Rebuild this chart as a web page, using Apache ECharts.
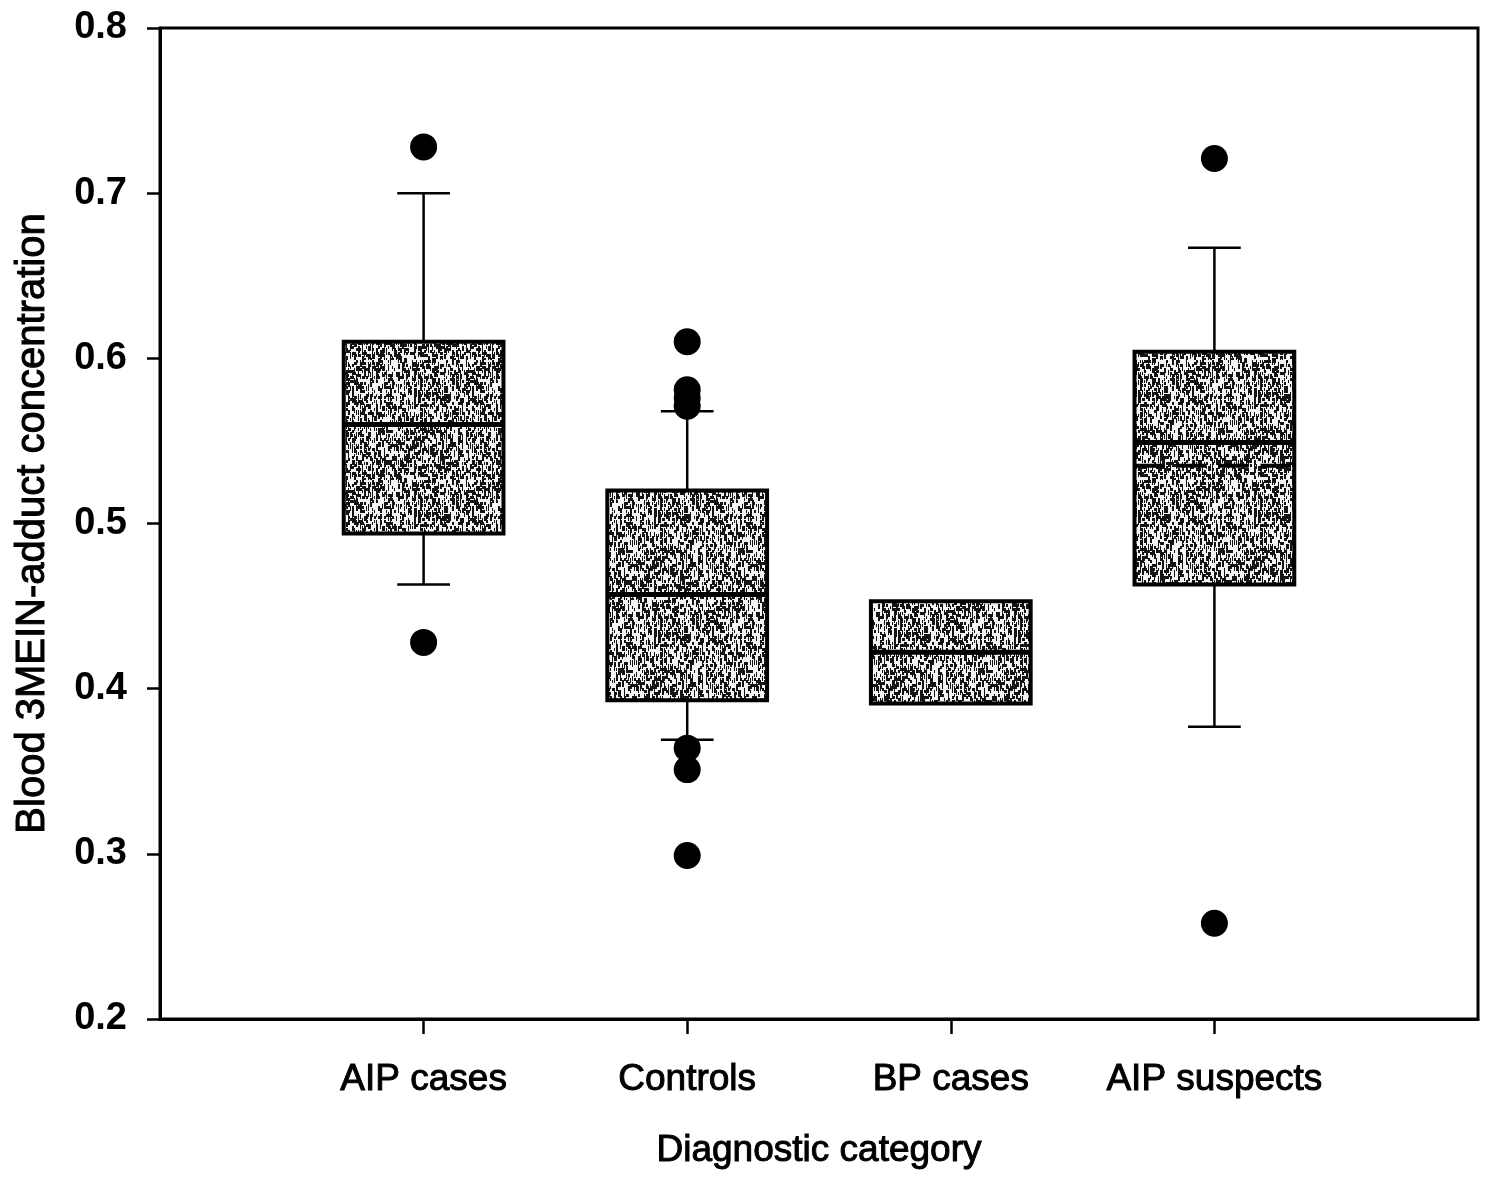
<!DOCTYPE html>
<html>
<head>
<meta charset="utf-8">
<script src="https://cdn.jsdelivr.net/npm/echarts@6.0.0/dist/echarts.min.js"></script>
<style>
  html, body { margin: 0; padding: 0; background: #fff; }
  #chart { width: 1486px; height: 1180px; }
</style>
</head>
<body>
<div id="chart"></div>
<script>
// box summary per diagnostic category
const categories = ['AIP cases', 'Controls', 'BP cases', 'AIP suspects']
const whiskerLow = [0.463, 0.369, null, 0.377]
const q1 = [0.494, 0.393, 0.391, 0.463]
const median = [0.560, 0.457, 0.422, 0.549]
const q3 = [0.610, 0.520, 0.453, 0.604]
const whiskerHigh = [0.700, 0.568, null, 0.667]
const meanLine = [null, null, null, 0.535]

// outlying points: category index + value
const outlierCat = [0, 0, 1, 1, 1, 1, 1, 1, 1, 3, 3]
const outlierVal = [0.728, 0.428, 0.610, 0.581, 0.576, 0.571, 0.364, 0.351, 0.299, 0.721, 0.258]

const yMin = 0.2
const yMax = 0.8
const yStep = 0.1

// stippled grey fill like the scanned print
const makeTexture = () => {
  const size = 120
  const c = document.createElement('canvas')
  c.width = size
  c.height = size
  const ctx = c.getContext('2d')
  ctx.fillStyle = '#f4f4f4'
  ctx.fillRect(0, 0, size, size)
  let seed = 12345
  const next = () => {
    seed = (seed * 16807) % 2147483647
    return seed / 2147483647
  }
  ctx.fillStyle = '#141414'
  for (let y = 0; y < size; y += 2) {
    for (let x = 0; x < size; x += 2) {
      if (next() < 0.44) ctx.fillRect(x, y, next() < 0.5 ? 2 : 1, next() < 0.4 ? 5 : 3)
    }
  }
  return c
}
const texture = makeTexture()

const mainFont = "'Liberation Sans', Arial, sans-serif"
// the print is heavy, thicken plain text a little
const heavy = { textBorderColor: '#000', textBorderWidth: 1 }

const chart = echarts.init(document.getElementById('chart'))

const renderBox = (params, api) => {
  const i = params.dataIndex
  const x = api.value(0)
  const unit = api.size([1, 0])[0]
  const half = unit * 0.303
  const cap = unit * 0.1
  const cx = api.coord([x, q3[i]])[0]
  const yQ3 = api.coord([x, q3[i]])[1]
  const yQ1 = api.coord([x, q1[i]])[1]
  const yMed = api.coord([x, median[i]])[1]
  const children = []
  const lineStyle = { stroke: '#000', lineWidth: 2.5 }
  if (whiskerHigh[i] != null) {
    const yHi = api.coord([x, whiskerHigh[i]])[1]
    children.push({ type: 'line', shape: { x1: cx, y1: yQ3, x2: cx, y2: yHi }, style: lineStyle })
    children.push({ type: 'line', shape: { x1: cx - cap, y1: yHi, x2: cx + cap, y2: yHi }, style: lineStyle })
  }
  if (whiskerLow[i] != null) {
    const yLo = api.coord([x, whiskerLow[i]])[1]
    children.push({ type: 'line', shape: { x1: cx, y1: yQ1, x2: cx, y2: yLo }, style: lineStyle })
    children.push({ type: 'line', shape: { x1: cx - cap, y1: yLo, x2: cx + cap, y2: yLo }, style: lineStyle })
  }
  children.push({
    type: 'rect',
    shape: { x: cx - half, y: yQ3, width: half * 2, height: yQ1 - yQ3 },
    style: { fill: { image: texture, repeat: 'repeat' }, stroke: '#000', lineWidth: 4 },
  })
  children.push({
    type: 'line',
    shape: { x1: cx - half, y1: yMed, x2: cx + half, y2: yMed },
    style: { stroke: '#000', lineWidth: 5 },
  })
  if (meanLine[i] != null) {
    const yMean = api.coord([x, meanLine[i]])[1]
    children.push({
      type: 'line',
      shape: { x1: cx - half, y1: yMean, x2: cx + half, y2: yMean },
      style: { stroke: '#000', lineWidth: 4, lineDash: [30, 12] },
    })
  }
  return { type: 'group', children }
}

const option = {
  backgroundColor: '#fff',
  animation: false,
  grid: {
    left: 160,
    right: 8,
    top: 28,
    bottom: 161,
    show: true,
    borderColor: '#000',
    borderWidth: 3,
  },
  xAxis: {
    type: 'value',
    min: 0,
    max: 5,
    interval: 1,
    splitLine: { show: false },
    axisLine: { show: true, lineStyle: { color: '#000', width: 3 } },
    axisTick: {
      show: true,
      customValues: [1, 2, 3, 4],
      length: 15,
      lineStyle: { color: '#000', width: 2.5 },
    },
    axisLabel: {
      customValues: [1, 2, 3, 4],
      formatter: (v) => categories[Math.round(v) - 1] || '',
      margin: 42,
      color: '#000',
      fontFamily: mainFont,
      fontSize: 37,
      ...heavy,
    },
    name: 'Diagnostic category',
    nameLocation: 'middle',
    nameGap: 113,
    nameTextStyle: { color: '#000', fontFamily: mainFont, fontSize: 37, ...heavy },
  },
  yAxis: {
    type: 'value',
    min: yMin,
    max: yMax,
    interval: yStep,
    splitLine: { show: false },
    axisLine: { show: true, lineStyle: { color: '#000', width: 3 } },
    axisTick: { show: true, length: 13, lineStyle: { color: '#000', width: 2.5 } },
    axisLabel: {
      formatter: (v) => v.toFixed(1),
      margin: 33,
      color: '#000',
      fontFamily: mainFont,
      fontWeight: 'bold',
      fontSize: 38,
    },
    name: 'Blood 3MEIN-adduct concentration',
    nameLocation: 'middle',
    nameGap: 107,
    nameTextStyle: { color: '#000', fontFamily: mainFont, fontSize: 40, ...heavy },
  },
  series: [
    {
      type: 'custom',
      renderItem: renderBox,
      data: categories.map((c, i) => [i + 1, q1[i], q3[i]]),
      encode: { x: 0, y: [1, 2] },
      z: 2,
    },
    {
      type: 'scatter',
      symbol: 'circle',
      symbolSize: 27,
      itemStyle: { color: '#000', opacity: 1 },
      data: outlierCat.map((c, k) => [c + 1, outlierVal[k]]),
      z: 3,
    },
  ],
}

chart.setOption(option)
</script>
</body>
</html>
